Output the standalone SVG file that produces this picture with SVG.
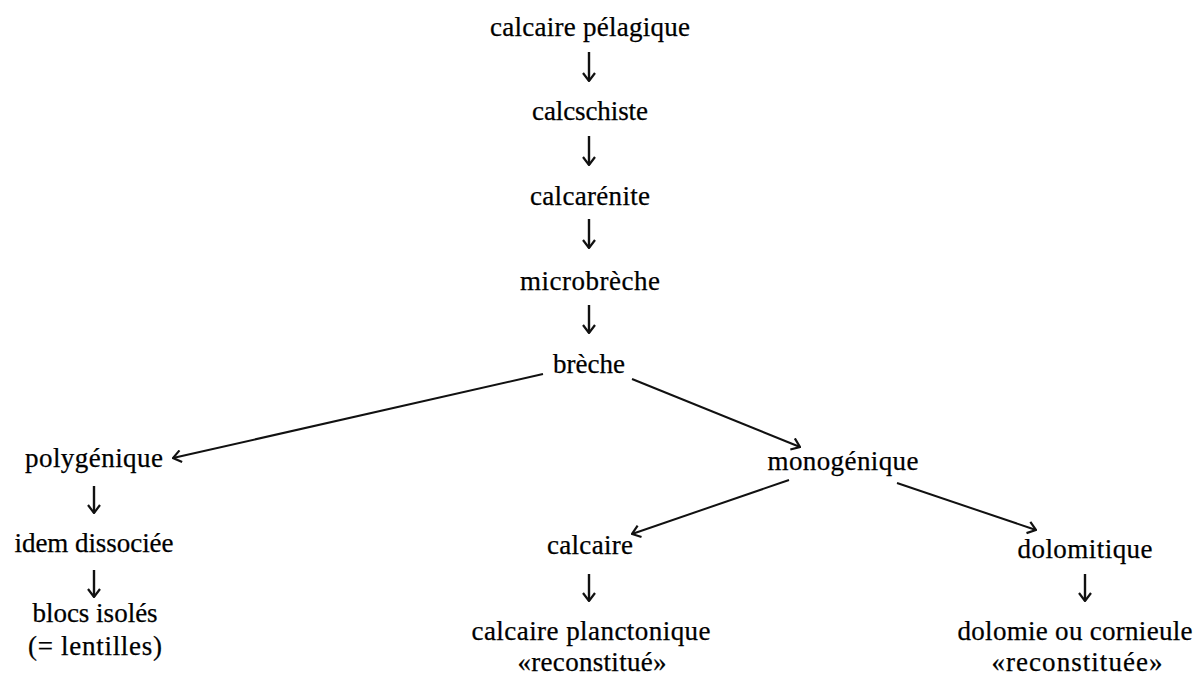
<svg xmlns="http://www.w3.org/2000/svg" width="1194" height="677" viewBox="0 0 1194 677">
<style>
text{font-family:"Liberation Serif","Times New Roman",serif;font-size:27px;fill:#000;stroke:#000;stroke-width:0.25;text-anchor:middle}
.c{stroke:#111;stroke-width:2;fill:none;marker-end:url(#ah)}
.v{stroke:#111;stroke-width:2.4;fill:none;marker-end:url(#ah)}
</style>
<defs>
<marker id="ah" viewBox="0 0 10 14" refX="9" refY="7" markerWidth="10" markerHeight="14" markerUnits="userSpaceOnUse" orient="auto">
<path d="M1,1 L9,7 L1,13" fill="none" stroke="#111" stroke-width="2.2" stroke-linejoin="miter"/>
</marker>
</defs>
<rect width="1194" height="677" fill="#fff"/>
<g id="connectors">
<line class="v" x1="589" y1="52" x2="589" y2="81"/>
<line class="v" x1="589" y1="136" x2="589" y2="165"/>
<line class="v" x1="589" y1="219" x2="589" y2="248"/>
<line class="v" x1="589" y1="305" x2="589" y2="333"/>
<line class="c" x1="543" y1="374" x2="173" y2="458"/>
<line class="c" x1="632" y1="379" x2="800" y2="447"/>
<line class="v" x1="94" y1="486" x2="94" y2="513"/>
<line class="v" x1="94" y1="570" x2="94" y2="597"/>
<line class="c" x1="789" y1="480" x2="632" y2="534"/>
<line class="c" x1="897" y1="483" x2="1036" y2="530"/>
<line class="v" x1="589" y1="574" x2="589" y2="601"/>
<line class="v" x1="1085" y1="574" x2="1085" y2="601"/>
</g>
<g id="n-calcaire-pelagique"><text x="590" y="36" textLength="200">calcaire pélagique</text></g>
<g id="n-calcschiste"><text x="590" y="120" textLength="116">calcschiste</text></g>
<g id="n-calcarenite"><text x="590" y="205" textLength="120">calcarénite</text></g>
<g id="n-microbreche"><text x="590" y="290" textLength="140">microbrèche</text></g>
<g id="n-breche"><text x="589" y="373" textLength="72">brèche</text></g>
<g id="n-polygenique"><text x="94" y="467" textLength="138">polygénique</text></g>
<g id="n-idem"><text x="94" y="552" textLength="159">idem dissociée</text></g>
<g id="n-blocs"><text x="95" y="622">blocs isolés</text><text x="95" y="655" textLength="134">(= lentilles)</text></g>
<g id="n-monogenique"><text x="843" y="470" textLength="151">monogénique</text></g>
<g id="n-calcaire"><text x="590" y="554" textLength="86">calcaire</text></g>
<g id="n-calcaire-planctonique"><text x="591" y="640" textLength="239">calcaire planctonique</text><text x="592" y="671" textLength="149">«reconstitué»</text></g>
<g id="n-dolomitique"><text x="1085" y="558" textLength="135">dolomitique</text></g>
<g id="n-dolomie"><text x="1075" y="640" textLength="235">dolomie ou cornieule</text><text x="1077" y="671" textLength="171">«reconstituée»</text></g>
</svg>
